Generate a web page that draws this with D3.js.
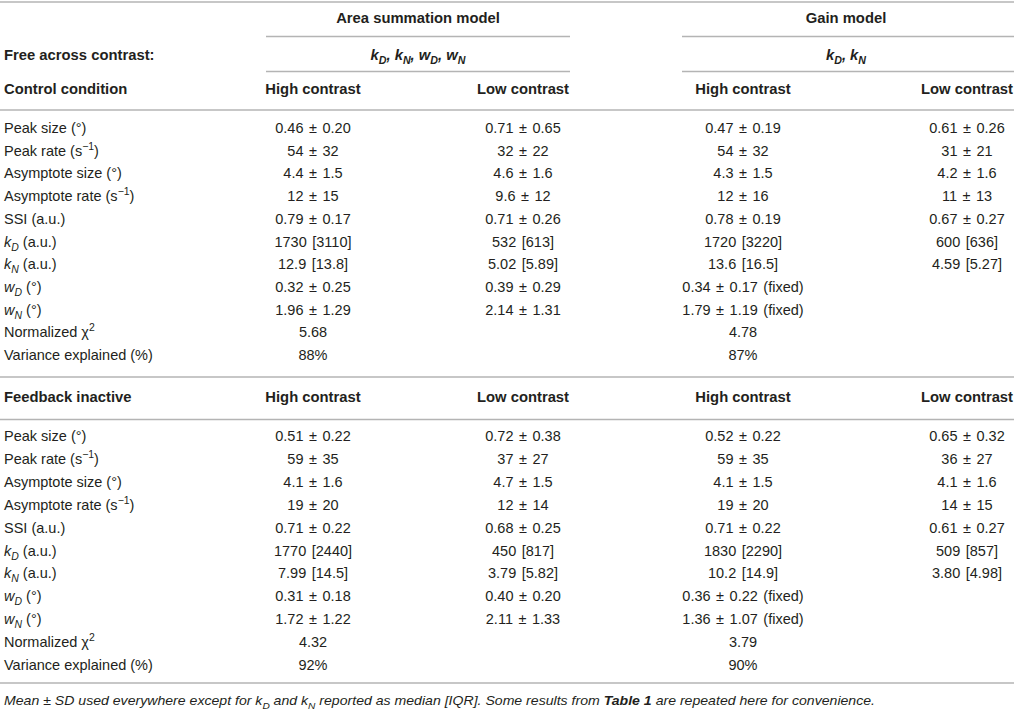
<!DOCTYPE html>
<html lang="en">
<head>
<meta charset="UTF-8">
<title>Area summation vs gain model</title>
<script src="https://d3js.org/d3.v7.min.js"></script>
<style>
    body { margin: 0; padding: 0; background: #fff; }
    svg { display: block; font-family: 'Liberation Sans', Arial, sans-serif; }
    .cell { font-size: 14.5px; fill: #231f20; }
    .val { word-spacing: 1.5px; }
    .head { font-size: 14.8px; font-weight: bold; fill: #231f20; }
    .rule { stroke: #b4b4b4; stroke-width: 1.6px; }
    .note { font-size: 13px; font-style: italic; fill: #231f20; }
</style>
</head>
<body>
<svg id="chart" width="1014" height="711"></svg>
<script>
// row labels (tiny markup: <i>, <sub>, <sup>)
var rowLabels = [
    "Peak size (°)",
    "Peak rate (s<sup>−1</sup>)",
    "Asymptote size (°)",
    "Asymptote rate (s<sup>−1</sup>)",
    "SSI (a.u.)",
    "<i>k<sub>D</sub></i> (a.u.)",
    "<i>k<sub>N</sub></i> (a.u.)",
    "<i>w<sub>D</sub></i> (°)",
    "<i>w<sub>N</sub></i> (°)",
    "Normalized χ<sup>2</sup>",
    "Variance explained (%)"
];

var controlAreaHigh = ["0.46 ± 0.20", "54 ± 32", "4.4 ± 1.5", "12 ± 15", "0.79 ± 0.17", "1730 [3110]", "12.9 [13.8]", "0.32 ± 0.25", "1.96 ± 1.29", "5.68", "88%"];
var controlAreaLow = ["0.71 ± 0.65", "32 ± 22", "4.6 ± 1.6", "9.6 ± 12", "0.71 ± 0.26", "532 [613]", "5.02 [5.89]", "0.39 ± 0.29", "2.14 ± 1.31", "", ""];
var controlGainHigh = ["0.47 ± 0.19", "54 ± 32", "4.3 ± 1.5", "12 ± 16", "0.78 ± 0.19", "1720 [3220]", "13.6 [16.5]", "0.34 ± 0.17 (fixed)", "1.79 ± 1.19 (fixed)", "4.78", "87%"];
var controlGainLow = ["0.61 ± 0.26", "31 ± 21", "4.2 ± 1.6", "11 ± 13", "0.67 ± 0.27", "600 [636]", "4.59 [5.27]", "", "", "", ""];

var feedbackAreaHigh = ["0.51 ± 0.22", "59 ± 35", "4.1 ± 1.6", "19 ± 20", "0.71 ± 0.22", "1770 [2440]", "7.99 [14.5]", "0.31 ± 0.18", "1.72 ± 1.22", "4.32", "92%"];
var feedbackAreaLow = ["0.72 ± 0.38", "37 ± 27", "4.7 ± 1.5", "12 ± 14", "0.68 ± 0.25", "450 [817]", "3.79 [5.82]", "0.40 ± 0.20", "2.11 ± 1.33", "", ""];
var feedbackGainHigh = ["0.52 ± 0.22", "59 ± 35", "4.1 ± 1.5", "19 ± 20", "0.71 ± 0.22", "1830 [2290]", "10.2 [14.9]", "0.36 ± 0.22 (fixed)", "1.36 ± 1.07 (fixed)", "3.79", "90%"];
var feedbackGainLow = ["0.65 ± 0.32", "36 ± 27", "4.1 ± 1.6", "14 ± 15", "0.61 ± 0.27", "509 [857]", "3.80 [4.98]", "", "", "", ""];

var columns = ["label", "areaHigh", "areaLow", "gainHigh", "gainLow"];
var models = ["Area summation model", "Gain model"];
var freeParams = ["<i>k<sub>D</sub>, k<sub>N</sub>, w<sub>D</sub>, w<sub>N</sub></i>", "<i>k<sub>D</sub>, k<sub>N</sub></i>"];
var contrastHeads = ["High contrast", "Low contrast", "High contrast", "Low contrast"];
var footnote = "Mean ± SD used everywhere except for <i>k<sub>D</sub></i> and <i>k<sub>N</sub></i> reported as median [IQR]. Some results from <b>Table 1</b> are repeated here for convenience.";

var sections = [
    { title: "Control condition", cols: [controlAreaHigh, controlAreaLow, controlGainHigh, controlGainLow] },
    { title: "Feedback inactive", cols: [feedbackAreaHigh, feedbackAreaLow, feedbackGainHigh, feedbackGainLow] }
];

var svg = d3.select("#chart");

var x = d3.scaleOrdinal().domain(columns).range([4, 313, 523, 743, 967]);
var modelX = d3.scaleOrdinal().domain(models).range([418, 846]);
var modelSpan = { "Area summation model": [266, 570], "Gain model": [682, 1014] };

// render a string with <i>, <b>, <sub>, <sup> tags as tspans
function richText(textSel, str) {
    var parts = str.split(/(<\/?(?:i|b|sub|sup)>)/);
    var st = { i: false, b: false, sub: false, sup: false };
    var shift = 0;
    parts.forEach(function(p) {
        var m = p.match(/^<(\/?)(i|b|sub|sup)>$/);
        if (m) { st[m[2]] = !m[1]; return; }
        if (!p) return;
        var ts = textSel.append("tspan").text(p);
        if (st.i) ts.style("font-style", "italic");
        if (st.b) ts.style("font-weight", "bold");
        var want = st.sub ? 4 : (st.sup ? -6 : 0);
        if (want !== shift) { ts.attr("dy", want - shift); shift = want; }
        if (st.sub || st.sup) ts.style("font-size", "0.72em");
    });
}

function rule(y, x1, x2) {
    svg.append("line").attr("class", "rule")
        .attr("x1", x1).attr("x2", x2).attr("y1", y).attr("y2", y);
}

// header block
rule(2, 0, 1014);
models.forEach(function(m, i) {
    svg.append("text").attr("class", "head")
        .attr("x", modelX(m)).attr("y", 23).attr("text-anchor", "middle").text(m);
    rule(36.5, modelSpan[m][0], modelSpan[m][1]);
    var t = svg.append("text").attr("class", "head")
        .attr("x", modelX(m)).attr("y", 60).attr("text-anchor", "middle");
    richText(t, freeParams[i]);
    rule(71.5, modelSpan[m][0], modelSpan[m][1]);
});
svg.append("text").attr("class", "head").attr("x", 4).attr("y", 60).text("Free across contrast:");

var rowRange = [[128, 355], [436, 665]];

sections.forEach(function(sec, s) {
    var y = d3.scalePoint().domain(d3.range(rowLabels.length)).range(rowRange[s]);

    if (s > 0) rule(377, 0, 1014);
    var hy = s === 0 ? 94 : 402;
    svg.append("text").attr("class", "head").attr("x", x("label")).attr("y", hy).text(sec.title);
    columns.slice(1).forEach(function(c, j) {
        svg.append("text").attr("class", "head")
            .attr("x", x(c)).attr("y", hy).attr("text-anchor", "middle").text(contrastHeads[j]);
    });
    rule(s === 0 ? 110 : 419.5, 0, 1014);

    var g = svg.append("g");
    g.selectAll("text.lbl").data(rowLabels).enter().append("text")
        .attr("class", "cell lbl")
        .attr("x", x("label"))
        .attr("y", function(d, i) { return y(i) + 5; })
        .each(function(d) { richText(d3.select(this), d); });

    sec.cols.forEach(function(vals, j) {
        g.selectAll("text.c" + j).data(vals).enter().append("text")
            .attr("class", "cell val c" + j)
            .attr("x", x(columns[j + 1]))
            .attr("y", function(d, i) { return y(i) + 5; })
            .attr("text-anchor", "middle")
            .text(function(d) { return d; });
    });
});

rule(683, 0, 1014);
var note = svg.append("text").attr("class", "note").attr("x", 4).attr("y", 705)
    .attr("textLength", 871).attr("lengthAdjust", "spacingAndGlyphs");
richText(note, footnote);
</script>
</body>
</html>
